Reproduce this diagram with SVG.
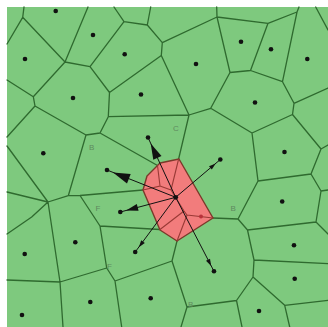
<svg xmlns="http://www.w3.org/2000/svg" width="328" height="327" viewBox="0 0 328 327">
<style>
.edge{fill:none;stroke:#2f6a2f;stroke-width:1.3;stroke-linejoin:round;stroke-linecap:round}
.inner{fill:none;stroke:#9a3a36;stroke-width:1.1;stroke-linecap:round}
.cell{fill:#f27c7c;stroke:#7a3a2a;stroke-width:1.4;stroke-linejoin:round}
.site{fill:#111}
.arrow{stroke:#111;stroke-width:1;fill:none}
.head{fill:#111}
.lbl{font-family:"Liberation Sans",Arial,sans-serif;font-size:8px;fill:#5f8a5f}
</style>
<rect x="0" y="0" width="328" height="327" fill="#fff"/>
<rect id="field" x="7" y="7" width="321" height="320" fill="#7ec97e"/>
<g id="voronoi">
<path class="edge" d="M24,7 L22.7,17.3 M7,44 L22.7,17.3 L65,62 M88,7 L65,62 L33.3,96.7 L35,106 L7,137 M7,80 L33.3,96.7 M65,62 L90,66.7 L124,21.7 L114,7 M90,66.7 L109.5,92.5 L108.3,116.7 L100,133 L86,135 L35,106 M124,21.7 L147.3,25 L150.7,7 M147.3,25 L162.3,42.7 L161.3,55.5 L109.5,92.5 M162.3,42.7 L217,17 L216.7,7 M161.3,55.5 L189,115 L108.3,116.7 M100,133 L157.5,165.5 M86,135 L68.3,195.7 L48,202 M68.3,195.7 L80,195.5 L143,190 M80,195.5 L100,226 L106.7,268 L115,281 L121.7,327 M100,226 L160,229.5 M106.7,268 L60,282 M7,146 L48,202 L7,192 M48,202 L31.7,217 L7,234 M48,202 L60,282 L7,280 M60,282 L63,327 M115,281 L172,261 L177,241 M172,261 L187,307 L181,327 M187,307 L236.5,300.5 L242,327 M236.5,300.5 L253,277 L284.7,305.3 L289.7,327 M284.7,305.3 L328,300.3 M253,277 L254,260 L328,263.7 M254,260 L247.5,230 L316,222 L328,234 M247.5,230 L238,219 L213,218 M238,219 L258,181 L252,133 L210.7,108.3 L189,115 L178.5,159.5 M258,181 L311,174 L321,149 L328,145 M311,174 L321,191 L328,190 M321,191 L316,222 M321,149 L292.5,114.5 L252,133 M292.5,114.5 L294,103.3 L328,88 M294,103.3 L282.5,81.7 L250.5,70.5 L230,72.5 L210.7,108.3 M230,72.5 L217,17 L268,23.3 L297,12 L299,7 M268,23.3 L250.5,70.5 M297,12 L282.5,81.7 M315.7,7 L328,30"/>
</g>
<g id="new-cell">
<polygon class="cell" points="160,163 179,159 213,218 177,241 160,230 143,190 147,176"/>
<path class="inner" d="M178.5,159.5 L171,190 L184,211 L187,215 L213,218 M157.5,165.5 L160,186 L143,190 M160,186 L171,190 M184,211 L160,229.5 M187,215 L177,241"/>
</g>
<g id="connectors">
<path class="arrow" d="M175.7,197.3 L148,137.5 M175.7,197.3 L107,170 M175.7,197.3 L120.3,212 M175.7,197.3 L135.2,252 M175.7,197.3 L214,271.3 M175.7,197.3 L220.3,159.5"/>
<polygon class="head" points="150.7,143.4 161.5,156 153.3,159.8"/>
<polygon class="head" points="113,172.4 130.7,174.1 127,183.4"/>
<polygon class="head" points="126.1,210.5 138.6,210.8 136.8,204"/>
<polygon class="head" points="138.8,247.2 144.8,242.9 141.2,240.3"/>
<polygon class="head" points="211.2,266 210,258.8 206,260.8"/>
<polygon class="head" points="215.7,163.4 211.8,169.6 209,166.2"/>
</g>
<g id="sites">
<circle id="s1" class="site" cx="55.7" cy="11" r="2.3"/>
<circle id="s2" class="site" cx="93" cy="35" r="2.3"/>
<circle id="s3" class="site" cx="25" cy="59" r="2.3"/>
<circle id="s4" class="site" cx="73" cy="98" r="2.3"/>
<circle id="s5" class="site" cx="124.7" cy="54.3" r="2.3"/>
<circle id="s6" class="site" cx="196" cy="64" r="2.3"/>
<circle id="s7" class="site" cx="141" cy="94.5" r="2.3"/>
<circle id="s8" class="site" cx="241" cy="41.7" r="2.3"/>
<circle id="s9" class="site" cx="271" cy="49.3" r="2.3"/>
<circle id="s10" class="site" cx="307.3" cy="59" r="2.3"/>
<circle id="s11" class="site" cx="255" cy="102.5" r="2.3"/>
<circle id="s12" class="site" cx="43.3" cy="153.3" r="2.3"/>
<circle id="s13" class="site" cx="148" cy="137.5" r="2.3"/>
<circle id="s14" class="site" cx="107" cy="170" r="2.3"/>
<circle id="s15" class="site" cx="220.3" cy="159.5" r="2.3"/>
<circle id="s16" class="site" cx="284.5" cy="152" r="2.3"/>
<circle id="s19" class="site" cx="120.3" cy="212" r="2.3"/>
<circle id="s20" class="site" cx="135.2" cy="252" r="2.3"/>
<circle id="s21" class="site" cx="75.3" cy="242.3" r="2.3"/>
<circle id="s22" class="site" cx="24.7" cy="254" r="2.3"/>
<circle id="s23" class="site" cx="90.3" cy="302" r="2.3"/>
<circle id="s24" class="site" cx="150.7" cy="298.3" r="2.3"/>
<circle id="s25" class="site" cx="22" cy="315" r="2.3"/>
<circle id="s26" class="site" cx="214" cy="271.3" r="2.3"/>
<circle id="s27" class="site" cx="282.2" cy="201.5" r="2.3"/>
<circle id="s28" class="site" cx="294" cy="245.3" r="2.3"/>
<circle id="s29" class="site" cx="294.7" cy="278.7" r="2.3"/>
<circle id="s30" class="site" cx="259" cy="311" r="2.3"/>
<circle id="query" class="site" cx="175.7" cy="197.3" r="2.4"/>
<circle id="mark" cx="201" cy="216.5" r="2" fill="#b8323a"/>
</g>
<g id="labels">
<text class="lbl" x="173" y="131">C</text>
<text class="lbl" x="89" y="150">B</text>
<text class="lbl" x="95.5" y="211">F</text>
<text class="lbl" x="230.5" y="211">B</text>
<text class="lbl" x="107" y="269">F</text>
<text class="lbl" x="188" y="307">B</text>
</g>
</svg>
